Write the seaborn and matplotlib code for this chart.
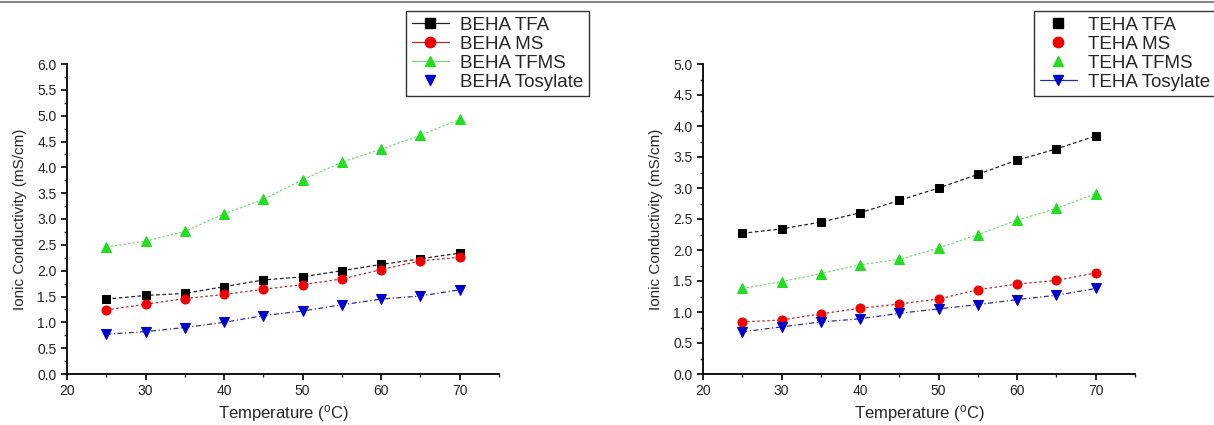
import matplotlib
matplotlib.use("Agg")
import matplotlib.pyplot as plt
from matplotlib.lines import Line2D
from matplotlib.ticker import MultipleLocator, FormatStrFormatter
import seaborn as sns
import pandas as pd

temperature = [25, 30, 35, 40, 45, 50, 55, 60, 65, 70]

beha_tfa = [1.45, 1.52, 1.56, 1.69, 1.82, 1.88, 2.00, 2.12, 2.23, 2.34]
beha_ms = [1.24, 1.35, 1.46, 1.54, 1.64, 1.73, 1.84, 2.02, 2.19, 2.26]
beha_tfms = [2.46, 2.57, 2.76, 3.10, 3.38, 3.76, 4.10, 4.35, 4.62, 4.93]
beha_tos = [0.77, 0.82, 0.90, 1.00, 1.13, 1.22, 1.34, 1.45, 1.51, 1.63]

teha_tfa = [2.27, 2.34, 2.45, 2.60, 2.80, 3.00, 3.22, 3.45, 3.63, 3.84]
teha_ms = [0.84, 0.87, 0.97, 1.06, 1.13, 1.21, 1.36, 1.45, 1.51, 1.63]
teha_tfms = [1.38, 1.49, 1.62, 1.76, 1.85, 2.03, 2.25, 2.48, 2.67, 2.91]
teha_tos = [0.68, 0.76, 0.84, 0.89, 0.98, 1.05, 1.12, 1.20, 1.27, 1.38]

beha_labels = ["BEHA TFA", "BEHA MS", "BEHA TFMS", "BEHA Tosylate"]
teha_labels = ["TEHA TFA", "TEHA MS", "TEHA TFMS", "TEHA Tosylate"]

line_colors = ["#222222", "#b03030", "#7fd67f", "#303090"]
marker_colors = ["#000000", "#ee0000", "#22dd22", "#0000cc"]
markers = ["s", "o", "^", "v"]
linestyles = [(0, (3, 2)), (0, (2, 2)), (0, (2, 1.5)), (0, (4, 2, 1, 2))]

sns.set_style("ticks")
plt.rcParams["font.family"] = ["Liberation Sans", "DejaVu Sans"]

fig = plt.figure(figsize=(12.14, 4.25), dpi=100)
ax1 = fig.add_axes([67 / 1214, 1 - 374 / 425, 432 / 1214, 310 / 425])
ax2 = fig.add_axes([703 / 1214, 1 - 374 / 425, 432 / 1214, 310 / 425])


def draw(ax, series, labels, ymax):
    for i, (vals, lab) in enumerate(zip(series, labels)):
        df = pd.DataFrame({"T": temperature, "k": vals})
        sns.lineplot(data=df, x="T", y="k", ax=ax, color=line_colors[i],
                     linestyle=linestyles[i], linewidth=0.9,
                     marker=markers[i], markersize=6.5 if i != 0 else 6,
                     markerfacecolor=marker_colors[i],
                     markeredgecolor=marker_colors[i], label=lab, legend=False)
    ax.set_xlim(20, 75)
    ax.set_ylim(0, ymax)
    ax.xaxis.set_major_locator(MultipleLocator(10))
    ax.xaxis.set_minor_locator(MultipleLocator(5))
    ax.yaxis.set_major_locator(MultipleLocator(0.5))
    ax.yaxis.set_minor_locator(MultipleLocator(0.25))
    ax.yaxis.set_major_formatter(FormatStrFormatter("%.1f"))
    sns.despine(ax=ax)
    for s in ["left", "bottom"]:
        ax.spines[s].set_linewidth(1.3)
        ax.spines[s].set_color("black")
    ax.tick_params(axis="both", which="major", length=4, width=1.2,
                   labelsize=10, direction="out", colors="black",
                   labelcolor="#222222")
    ax.tick_params(axis="both", which="minor", length=2.5, width=1.0,
                   direction="out")
    ax.set_xlabel(r"Temperature ($\mathregular{^{o}}$C)", fontsize=12,
                  labelpad=3)
    ax.set_ylabel("Ionic Conductivity (mS/cm)", fontsize=11, labelpad=7)
    ax.grid(False)


draw(ax1, [beha_tfa, beha_ms, beha_tfms, beha_tos], beha_labels, 6.0)
draw(ax2, [teha_tfa, teha_ms, teha_tfms, teha_tos], teha_labels, 5.0)


def handles(labels, with_line):
    hs = []
    for i, lab in enumerate(labels):
        hs.append(Line2D([], [], color=line_colors[i] if with_line[i] else "none",
                         linewidth=0.9, marker=markers[i], markersize=7.5,
                         markerfacecolor=marker_colors[i],
                         markeredgecolor=marker_colors[i], label=lab))
    return hs


leg_kw = dict(fontsize=13.5, frameon=True, fancybox=False, borderpad=0.3,
              labelspacing=0.1, handlelength=2.0, handletextpad=0.6,
              borderaxespad=0.0, loc="upper left")
l1 = fig.legend(handles=handles(beha_labels, [True, True, True, False]),
                bbox_to_anchor=(406 / 1214, 1 - 11 / 425), **leg_kw)
l2 = fig.legend(handles=handles(teha_labels, [False, False, False, True]),
                bbox_to_anchor=(1034 / 1214, 1 - 11 / 425), **leg_kw)
for lg in (l1, l2):
    lg.get_frame().set_edgecolor("black")
    lg.get_frame().set_linewidth(1.0)

fig.add_artist(Line2D([0, 1], [1 - 2 / 425, 1 - 2 / 425],
                      transform=fig.transFigure, color="#888888", linewidth=1.5))

fig.savefig("out.png", dpi=100, facecolor="white")
